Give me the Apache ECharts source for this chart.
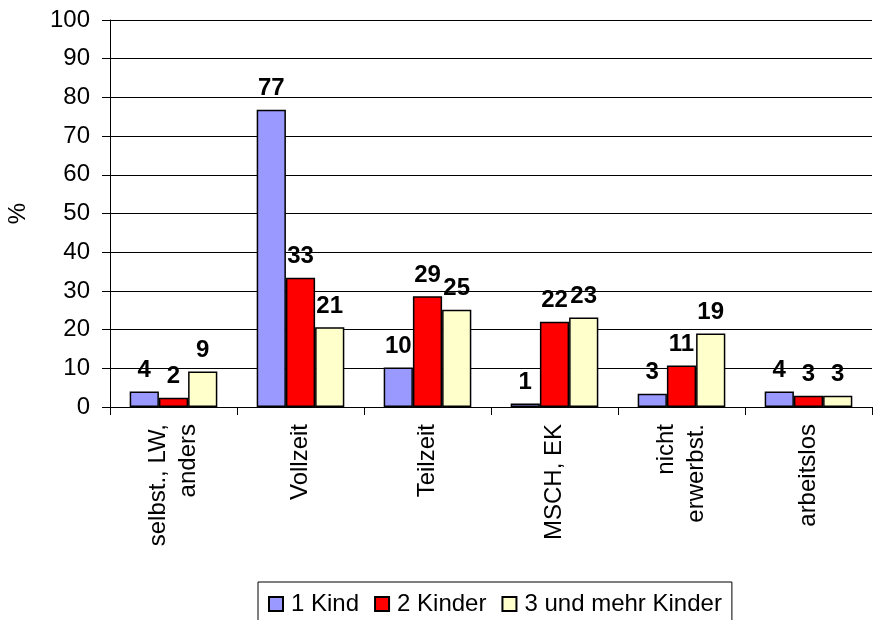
<!DOCTYPE html>
<html>
<head>
<meta charset="utf-8">
<script src="https://cdn.jsdelivr.net/npm/echarts@6/dist/echarts.min.js"></script>
<style>
  html, body { margin: 0; padding: 0; background: #fff; }
  #chart { width: 874px; height: 620px; }
</style>
</head>
<body>
<div id="chart"></div>
<script>
// Kategorien (x-Achse)
const categories = ["selbst., LW,\nanders", "Vollzeit", "Teilzeit", "MSCH, EK", "nicht\nerwerbst.", "arbeitslos"];
// Werte in %
const kind1 = [4.0, 76.8, 10.2, 0.9, 3.4, 4.0];
const kind2 = [2.4, 33.4, 28.6, 22.0, 10.7, 2.9];
const kind3 = [9.2, 20.6, 25.1, 23.1, 19.0, 2.9];
const seriesNames = ["1 Kind", "2 Kinder", "3 und mehr Kinder"];
const colors = ["#9999FF", "#FF0000", "#FFFFCC"];

const font = "Liberation Sans";

function makeSeries(name, data, color) {
    return {
        name: name,
        type: "bar",
        data: data,
        barGap: "0%",
        barCategoryGap: "31%",
        itemStyle: { color: color, borderColor: "#000", borderWidth: 1.5 },
        label: {
            show: true,
            position: "top",
            distance: 9,
            fontFamily: font,
            fontSize: 24,
            fontWeight: "bold",
            color: "#000",
            formatter: p => Math.round(p.value)
        }
    };
}

const chart = echarts.init(document.getElementById("chart"));
chart.setOption({
    animation: false,
    grid: { left: 110, right: 2, top: 20, bottom: 213, outerBoundsMode: "none" },
    legend: {
        left: 258,
        top: 582,
        padding: [10, 10, 10, 10],
        itemWidth: 14,
        itemHeight: 14,
        itemGap: 15,
        borderColor: "#000",
        borderWidth: 1,
        icon: "rect",
        textStyle: { fontFamily: font, fontSize: 24, color: "#000", padding: [0, 0, 0, 3] },
        data: seriesNames
    },
    xAxis: {
        type: "category",
        data: categories,
        axisLine: { lineStyle: { color: "#000", width: 1 } },
        axisTick: { show: true, length: 8, lineStyle: { color: "#000" } },
        axisLabel: {
            rotate: 90,
            margin: 17,
            fontFamily: font,
            fontSize: 24,
            color: "#000",
            lineHeight: 30
        }
    },
    yAxis: {
        type: "value",
        min: 0,
        max: 100,
        interval: 10,
        name: "%",
        nameLocation: "middle",
        nameRotate: 90,
        nameGap: 80,
        nameTextStyle: { fontFamily: font, fontSize: 24, color: "#000" },
        axisLine: { show: true, lineStyle: { color: "#000", width: 1 } },
        axisTick: { show: true, length: 8, lineStyle: { color: "#000" } },
        axisLabel: { margin: 20, fontFamily: font, fontSize: 24, color: "#000" },
        splitLine: { lineStyle: { color: "#000", width: 1 } }
    },
    series: [
        makeSeries(seriesNames[0], kind1, colors[0]),
        makeSeries(seriesNames[1], kind2, colors[1]),
        makeSeries(seriesNames[2], kind3, colors[2])
    ]
});
</script>
</body>
</html>
